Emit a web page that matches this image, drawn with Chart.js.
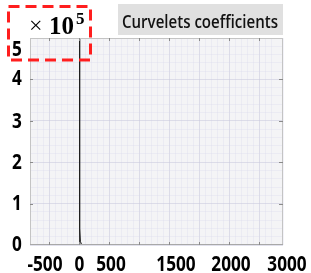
<!DOCTYPE html>
<html><head><meta charset="utf-8">
<style>html,body{margin:0;padding:0;background:#fff;overflow:hidden}</style>
<script src="https://cdn.jsdelivr.net/npm/chart.js@4"></script>
</head><body>
<canvas id="c" width="311" height="273"></canvas>
<script>
// ---- data ----
const coefValues = [-4, 0, 6, 15, 30, 50];
const coefCounts = [0, 520000, 40000, 9000, 2500, 0];
const xTickLabels = ['-500', '0', '500', '1500', '2000', '3000'];
const xTickValues = [-575, 0, 525, 1608, 2525, 3458];
const yTickLabels = ['0', '1', '2', '3', '4', '5'];
const yTickValues = [5000, 105000, 204000, 303000, 406000, 476000];
const titleText = 'Curvelets coefficients';
const multiplierBase = '10';
const multiplierPow = '5';

const points = coefValues.map((v, i) => ({x: v, y: coefCounts[i]}));

function squashText(ctx, text, cx, baseY, sx) {
  ctx.save();
  ctx.translate(cx, baseY);
  ctx.scale(sx, 1);
  ctx.textAlign = 'center';
  ctx.textBaseline = 'alphabetic';
  ctx.fillText(text, 0, 0);
  ctx.restore();
}

const decor = {
  id: 'decor',
  beforeDraw(chart) {
    const ctx = chart.ctx, a = chart.chartArea;
    ctx.save();
    ctx.fillStyle = '#ffffff';
    ctx.fillRect(0, 0, chart.width, chart.height);
    ctx.fillStyle = '#f4f4f6';
    ctx.fillRect(a.left, a.top, a.right - a.left, a.bottom - a.top);
    ctx.restore();
  },
  afterDraw(chart) {
    const ctx = chart.ctx, a = chart.chartArea;
    const xs = chart.scales.x, ys = chart.scales.y;
    ctx.save();
    // border
    ctx.strokeStyle = '#c4c4c4';
    ctx.lineWidth = 1;
    ctx.strokeRect(a.left + 0.5, a.top + 0.5, a.right - a.left - 1, a.bottom - a.top - 1);
    ctx.strokeStyle = '#a8a8a8';
    ctx.beginPath();
    ctx.moveTo(a.left, a.bottom - 0.5); ctx.lineTo(a.right, a.bottom - 0.5);
    ctx.stroke();
    // inner tick marks
    ctx.strokeStyle = '#8a8a8a';
    ctx.beginPath();
    for (let v = -500; v <= 3000; v += 500) {
      const p = Math.round(xs.getPixelForValue(v)) + 0.5;
      ctx.moveTo(p, a.bottom); ctx.lineTo(p, a.bottom - 3);
      ctx.moveTo(p, a.top); ctx.lineTo(p, a.top + 3);
    }
    for (let v = 100000; v < 500000; v += 100000) {
      const p = Math.round(ys.getPixelForValue(v)) + 0.5;
      ctx.moveTo(a.left, p); ctx.lineTo(a.left + 3, p);
      ctx.moveTo(a.right, p); ctx.lineTo(a.right - 4, p);
    }
    ctx.stroke();
    // tick labels
    ctx.fillStyle = '#000';
    ctx.font = 'bold 22px "Open Sans"';
    xTickLabels.forEach((t, i) => {
      squashText(ctx, t, xs.getPixelForValue(xTickValues[i]), 271, 0.78);
    });
    yTickLabels.forEach((t, i) => {
      squashText(ctx, t, 17, ys.getPixelForValue(yTickValues[i]) + 8, 0.78);
    });
    // title box
    ctx.fillStyle = '#e0e0e0';
    ctx.fillRect(118, 4, a.right - 118, 31);
    ctx.fillStyle = '#111';
    ctx.font = '600 18px "Open Sans"';
    ctx.textAlign = 'center';
    ctx.textBaseline = 'alphabetic';
    ctx.fillText(titleText, 200, 28, 156);
    // multiplier
    ctx.fillStyle = '#000';
    ctx.textAlign = 'left';
    ctx.font = '24px "Liberation Serif"';
    ctx.fillText('\u00d7', 29, 33);
    ctx.font = 'bold 25px "Liberation Serif"';
    ctx.fillText(multiplierBase, 49, 34);
    const w = ctx.measureText(multiplierBase).width;
    ctx.font = 'bold 17px "Liberation Serif"';
    ctx.fillText(multiplierPow, 49 + w + 2, 24);
    // red dashed box
    ctx.strokeStyle = '#ff1e1e';
    ctx.lineWidth = 3;
    ctx.setLineDash([11, 6]);
    ctx.strokeRect(8.5, 6.5, 82, 53.5);
    ctx.restore();
  }
};

new Chart(document.getElementById('c'), {
  type: 'line',
  data: {
    datasets: [{
      data: points,
      borderColor: '#1a1a1a',
      borderWidth: 1,
      pointRadius: 0,
      tension: 0,
      fill: false
    }]
  },
  options: {
    responsive: false,
    animation: false,
    devicePixelRatio: 1,
    layout: {padding: {top: 38, right: 28, left: 0, bottom: 0}},
    plugins: {legend: {display: false}, tooltip: {enabled: false}, title: {display: false}},
    scales: {
      x: {
        type: 'linear', min: -825, max: 3392,
        ticks: {display: false, stepSize: 100, autoSkip: false},
        grid: {
          drawTicks: false,
          lineWidth: 1,
          color: (c) => (c.tick && Math.abs(c.tick.value % 500) < 1e-6) ? 'rgba(200,200,220,0.55)' : 'rgba(215,215,235,0.3)'
        },
        border: {display: false},
        afterFit(s) { s.height = 28; }
      },
      y: {
        type: 'linear', min: 0, max: 500000,
        ticks: {display: false, stepSize: 20000, autoSkip: false},
        grid: {
          drawTicks: false,
          lineWidth: 1,
          color: (c) => (c.tick && Math.abs(c.tick.value % 100000) < 1e-6) ? 'rgba(200,200,220,0.55)' : 'rgba(215,215,235,0.3)'
        },
        border: {display: false},
        afterFit(s) { s.width = 30; }
      }
    }
  },
  plugins: [decor]
});
</script>
</body></html>
